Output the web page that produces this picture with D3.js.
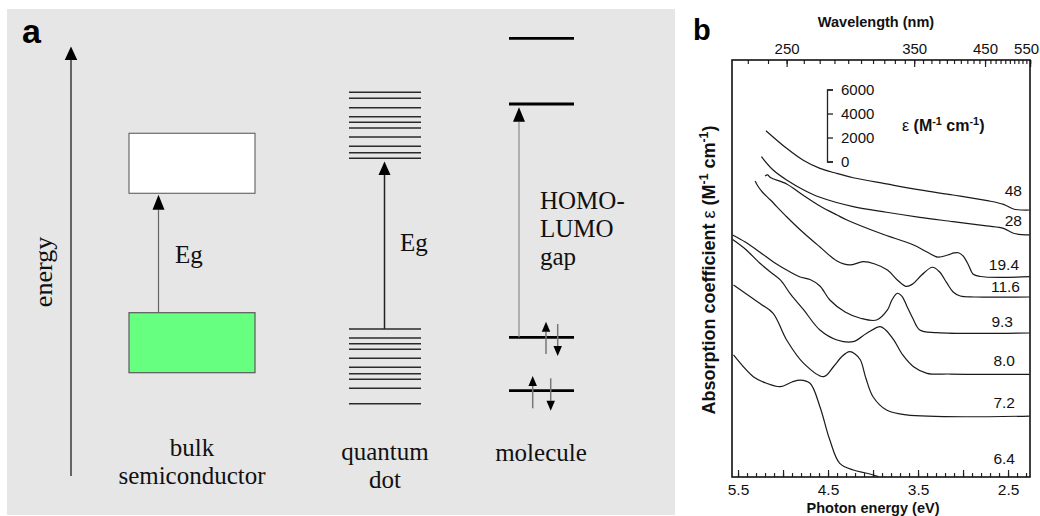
<!DOCTYPE html>
<html>
<head>
<meta charset="utf-8">
<script src="https://cdn.jsdelivr.net/npm/d3@7"></script>
<style>
  body { margin: 0; background: #fff; }
  svg { display: block; }
</style>
</head>
<body>
<svg id="chart" width="1040" height="516"></svg>
<script>
// ---------- Panel a: schematic energy levels (arbitrary energy units) ----------
const columnNames = [["bulk", "semiconductor"], ["quantum", "dot"], ["molecule"]];
const gapLabel = ["HOMO-", "LUMO", "gap"];
const bulkConduction = [282.7, 342.7];          // band bottom / top
const bulkValence = [103.3, 163.3];
const dotConduction = [317.7, 323.3, 329.7, 339, 348, 353.7, 359.3, 368.3, 377.7, 383.7];
const dotValence = [72.3, 87.7, 96.7, 102.3, 108.7, 117.7, 126.7, 132.3, 138, 147];
const moleculeLevels = [85.3, 138.7, 372, 437.7]; // HOMO-1, HOMO, LUMO, LUMO+1
const energyAxisTop = 430;

// ---------- Panel b: absorption spectra, [photon energy (eV), offset ε (M^-1 cm^-1)] ----------
const sizeLabels = ["48", "28", "19.4", "11.6", "9.3", "8.0", "7.2", "6.4"];
const spectrum48 = [[5.19,28860],[4.96,27390],[4.78,26420],[4.59,25720],[4.41,25310],[4.22,24940],[3.85,24420],[3.48,23920],[3.11,23500],[2.73,23030],[2.55,22720],[2.44,22330],[2.26,22250]];
const spectrum28 = [[5.24,26690],[5.11,25580],[4.96,24750],[4.77,23920],[4.59,23310],[4.22,22530],[3.85,22060],[3.48,21640],[3.11,21280],[2.74,20920],[2.55,20720],[2.44,20310],[2.26,20170]];
const spectrum19_4 = [[5.20,25080],[5.17,25170],[5.14,24950],[4.96,24420],[4.78,23500],[4.59,22580],[4.40,21830],[4.29,21420],[3.92,20310],[3.55,19330],[3.40,18750],[3.28,18330],[3.17,18500],[3.10,18670],[3.05,18690],[3.00,18420],[2.94,17670],[2.89,16920],[2.81,16710],[2.26,16690]];
const spectrum11_6 = [[5.31,24670],[5.28,24250],[5.23,23750],[5.14,23080],[4.96,21690],[4.77,20330],[4.59,19170],[4.40,18000],[4.26,17670],[4.11,17940],[3.98,17750],[3.84,17250],[3.73,16420],[3.63,15880],[3.56,16080],[3.46,16830],[3.34,17480],[3.26,17080],[3.18,16170],[3.11,15420],[3.03,15080],[2.87,15000],[2.26,15000]];
const spectrum9_3 = [[5.56,20170],[5.42,19580],[5.26,18750],[5.09,17830],[4.92,17080],[4.81,16670],[4.70,16460],[4.59,15920],[4.48,14750],[4.31,13750],[4.14,13230],[3.96,13080],[3.84,13920],[3.79,14750],[3.73,15310],[3.68,15080],[3.62,14170],[3.56,13250],[3.48,12250],[3.29,12030],[2.26,12000]];
const spectrum8_0 = [[5.56,19790],[5.42,19000],[5.26,17830],[5.14,17080],[5.03,16420],[4.91,15170],[4.77,13920],[4.59,12250],[4.40,11420],[4.22,11280],[4.07,11980],[3.92,12530],[3.86,12250],[3.77,11420],[3.67,10170],[3.55,9190],[3.40,8640],[3.14,8580],[2.26,8560]];
const spectrum7_2 = [[5.55,16000],[5.26,14470],[5.11,13640],[4.96,11420],[4.77,9470],[4.55,8360],[4.44,9190],[4.34,10080],[4.26,10440],[4.20,10250],[4.14,9750],[4.08,8250],[4.00,6690],[3.85,5580],[3.63,5170],[2.26,5080]];
const spectrum6_4 = [[5.55,10170],[5.33,8360],[5.19,7830],[5.03,7530],[4.90,7920],[4.81,8080],[4.70,7810],[4.59,5860],[4.48,3080],[4.37,1140],[4.22,580],[4.07,310],[3.94,30]];
const spectra = [spectrum48, spectrum28, spectrum19_4, spectrum11_6, spectrum9_3, spectrum8_0, spectrum7_2, spectrum6_4];

const energyMinorTicks = d3.range(55, 22, -1).map(v => v / 10);
const energyMajorTicks = [5.5, 5.0, 4.5, 4.0, 3.5, 3.0, 2.5];
const energyTickLabels = [5.5, 4.5, 3.5, 2.5];
const wavelengthMinorTicks = d3.range(230, 551, 10);
const wavelengthTickLabels = [250, 350, 450, 550];
const scaleBarTicks = [0, 2000, 4000, 6000];
const scaleBarBase = 26290;

const svg = d3.select("#chart");
const serif = "'Liberation Serif', 'Times New Roman', serif";
const sans = "'Liberation Sans', Arial, Helvetica, sans-serif";

// vertical arrow with a filled triangular head
function arrow(g, x, yFrom, yTip, opt) {
  const dir = yTip < yFrom ? 1 : -1;       // 1 = pointing up
  const hl = opt.headLen, hw = opt.headW / 2;
  const yBase = yTip + dir * hl;
  g.append("line").attr("x1", x).attr("x2", x).attr("y1", yFrom).attr("y2", yBase)
    .attr("stroke", opt.color).attr("stroke-width", opt.width);
  g.append("path")
    .attr("d", `M${x},${yTip}L${x - hw},${yBase}L${x + hw},${yBase}Z`)
    .attr("fill", opt.headColor || "#000");
}

// multi-line serif text block as one <text> element
function textBlock(g, x, y, lines, gaps, anchor, size) {
  const t = g.append("text").attr("x", x).attr("y", y).attr("text-anchor", anchor)
    .attr("font-family", serif).attr("font-size", size).attr("fill", "#111");
  lines.forEach((s, i) => {
    t.append("tspan").attr("x", x).attr("dy", i === 0 ? 0 : gaps[i - 1]).text(s);
  });
  return t;
}

// ================= Panel a =================
const ga = svg.append("g");
ga.append("rect").attr("x", 7).attr("y", 9).attr("width", 668).attr("height", 506).attr("fill", "#e6e6e6");

const eY = d3.scaleLinear().domain([0, energyAxisTop]).range([476, 46]);

ga.append("text").attr("x", 22).attr("y", 43).text("a")
  .attr("font-family", sans).attr("font-weight", "bold").attr("font-size", 34).attr("fill", "#000");

// energy axis
arrow(ga, 71, eY(0), eY(energyAxisTop) + 0.5, { color: "#444", width: 1.6, headLen: 13.5, headW: 12.5 });
ga.append("text").attr("transform", `translate(52,${272}) rotate(-90)`)
  .attr("text-anchor", "middle").text("energy")
  .attr("font-family", serif).attr("font-size", 26).attr("fill", "#111");

// bulk semiconductor bands
const bulkX = 129, bulkW = 126;
ga.append("rect").attr("x", bulkX).attr("y", eY(bulkConduction[1])).attr("width", bulkW)
  .attr("height", eY(bulkConduction[0]) - eY(bulkConduction[1]))
  .attr("fill", "#ffffff").attr("stroke", "#6b6b6b").attr("stroke-width", 1.2);
ga.append("rect").attr("x", bulkX).attr("y", eY(bulkValence[1])).attr("width", bulkW)
  .attr("height", eY(bulkValence[0]) - eY(bulkValence[1]))
  .attr("fill", "#66ff7f").attr("stroke", "#5a5a5a").attr("stroke-width", 1.2);
arrow(ga, 158.5, eY(bulkValence[1]), eY(bulkConduction[0]) + 1.5, { color: "#666", width: 1.2, headLen: 15, headW: 12 });
ga.append("text").attr("x", 175).attr("y", 263).text("Eg")
  .attr("font-family", serif).attr("font-size", 25).attr("fill", "#111");

// quantum dot levels
const dotX1 = 349, dotX2 = 421;
ga.selectAll("line.cb").data(dotConduction).join("line").attr("class", "cb")
  .attr("x1", dotX1).attr("x2", dotX2).attr("y1", d => eY(d)).attr("y2", d => eY(d))
  .attr("stroke", "#2a2a2a").attr("stroke-width", 1.4);
ga.selectAll("line.vb").data(dotValence).join("line").attr("class", "vb")
  .attr("x1", dotX1).attr("x2", dotX2).attr("y1", d => eY(d)).attr("y2", d => eY(d))
  .attr("stroke", "#2a2a2a").attr("stroke-width", 1.4);
arrow(ga, 384.5, eY(d3.max(dotValence)), eY(d3.min(dotConduction)) + 3.2, { color: "#222", width: 1.5, headLen: 13.5, headW: 12 });
ga.append("text").attr("x", 400).attr("y", 251).text("Eg")
  .attr("font-family", serif).attr("font-size", 25).attr("fill", "#111");

// molecular orbitals
const molX1 = 509, molX2 = 574;
ga.selectAll("line.mo").data(moleculeLevels).join("line").attr("class", "mo")
  .attr("x1", molX1).attr("x2", molX2).attr("y1", d => eY(d)).attr("y2", d => eY(d))
  .attr("stroke", "#000").attr("stroke-width", 2.8);
arrow(ga, 519, eY(moleculeLevels[1]), eY(moleculeLevels[2]) + 3.2, { color: "#8a8a8a", width: 1.2, headLen: 14.5, headW: 12 });
// paired electron spins in HOMO and HOMO-1
const spin = { color: "#777", width: 1.5, headLen: 10, headW: 8.5 };
arrow(ga, 546, eY(moleculeLevels[1]) + 16.7, eY(moleculeLevels[1]) - 15.6, spin);
arrow(ga, 557.7, eY(moleculeLevels[1]) - 13.3, eY(moleculeLevels[1]) + 18.7, spin);
arrow(ga, 532.7, eY(moleculeLevels[0]) + 17.6, eY(moleculeLevels[0]) - 14.7, spin);
arrow(ga, 550.7, eY(moleculeLevels[0]) - 12.4, eY(moleculeLevels[0]) + 20, spin);
textBlock(ga, 540, 209, gapLabel, [28, 28], "start", 25);

// column captions
const captionX = [192, 385, 541];
const captionY = [456, 460, 461];
const captionGap = [28, 28, 0];
columnNames.forEach((lines, i) => {
  textBlock(ga, captionX[i], captionY[i], lines, [captionGap[i]], "middle", 25);
});

// ================= Panel b =================
const gb = svg.append("g");
const frame = { left: 732, right: 1030, top: 60, bottom: 477 };
const x = d3.scaleLinear().domain([5.567, 2.256]).range([frame.left, frame.right]);
const y = d3.scaleLinear().domain([0, 34750]).range([frame.bottom, frame.top]);
const textColor = "#111";

gb.append("text").attr("x", 693).attr("y", 40).text("b")
  .attr("font-family", sans).attr("font-weight", "bold").attr("font-size", 29).attr("fill", "#000");

// bottom photon-energy axis (ticks point inward)
const bottomMinor = d3.axisBottom(x).tickValues(energyMinorTicks).tickSize(-4).tickFormat("");
const bottomMajor = d3.axisBottom(x).tickValues(energyMajorTicks).tickSize(-7).tickPadding(7)
  .tickFormat(d => energyTickLabels.includes(d) ? d3.format(".1f")(d) : "");
[bottomMinor, bottomMajor].forEach(ax => {
  const g = gb.append("g").attr("transform", `translate(0,${frame.bottom})`).call(ax);
  g.select(".domain").remove();
  g.selectAll("line").attr("stroke", "#222").attr("stroke-width", 1.2);
  g.selectAll("text").attr("font-family", sans).attr("font-size", 15.5).attr("fill", textColor);
});

// top wavelength axis, placed on the same energy scale (E = 1240 / λ)
const toE = l => 1240 / l;
const topMinor = d3.axisTop(x).tickValues(wavelengthMinorTicks.map(toE)).tickSize(-4).tickFormat("");
const topMajor = d3.axisTop(x).tickValues(wavelengthTickLabels.map(toE)).tickSize(-7).tickPadding(6.5)
  .tickFormat(d => Math.round(1240 / d));
[topMinor, topMajor].forEach(ax => {
  const g = gb.append("g").attr("transform", `translate(0,${frame.top})`).call(ax);
  g.select(".domain").remove();
  g.selectAll("line").attr("stroke", "#222").attr("stroke-width", 1.2);
  g.selectAll("text").attr("font-family", sans).attr("font-size", 15).attr("fill", textColor);
  g.selectAll("text").filter(d => Math.round(1240 / d) === 550).attr("dx", -4);
});

gb.append("rect").attr("x", frame.left).attr("y", frame.top)
  .attr("width", frame.right - frame.left).attr("height", frame.bottom - frame.top)
  .attr("fill", "none").attr("stroke", "#111").attr("stroke-width", 1.6);

// axis titles
gb.append("text").attr("x", 876).attr("y", 27).attr("text-anchor", "middle").text("Wavelength (nm)")
  .attr("font-family", sans).attr("font-weight", "bold").attr("font-size", 14.5).attr("fill", textColor);
gb.append("text").attr("x", 873).attr("y", 513).attr("text-anchor", "middle").text("Photon energy (eV)")
  .attr("font-family", sans).attr("font-weight", "bold").attr("font-size", 14.5).attr("fill", textColor);

function unitText(sel, size) {
  sel.append("tspan").text(" (M");
  sel.append("tspan").attr("dy", -size * 0.38).attr("font-size", size * 0.68).text("-1");
  sel.append("tspan").attr("dy", size * 0.38).text(" cm");
  sel.append("tspan").attr("dy", -size * 0.38).attr("font-size", size * 0.68).text("-1");
  sel.append("tspan").attr("dy", size * 0.38).text(")");
}
const yTitle = gb.append("text").attr("transform", `translate(715,${270}) rotate(-90)`)
  .attr("text-anchor", "middle").attr("font-family", sans).attr("font-weight", "bold")
  .attr("font-size", 18).attr("fill", textColor);
yTitle.append("tspan").text("Absorption coefficient ");
yTitle.append("tspan").attr("font-weight", "normal").text("ε");
unitText(yTitle, 18);

// ε scale bar
const bar = d3.scaleLinear().domain([0, 6000]).range([y(scaleBarBase), y(scaleBarBase + 6000)]);
const barG = gb.append("g").attr("transform", "translate(827,0)")
  .call(d3.axisRight(bar).tickValues(scaleBarTicks).tickSize(6).tickPadding(8).tickFormat(d3.format("d")));
barG.select(".domain").attr("stroke", "#222").attr("stroke-width", 1.3);
barG.selectAll("line").attr("stroke", "#222").attr("stroke-width", 1.3);
barG.selectAll("text").attr("font-family", sans).attr("font-size", 15).attr("fill", textColor);

const epsLabel = gb.append("text").attr("x", 902).attr("y", 131)
  .attr("font-family", sans).attr("font-weight", "bold").attr("font-size", 16).attr("fill", textColor);
epsLabel.append("tspan").attr("font-weight", "normal").text("ε");
unitText(epsLabel, 16);

// spectra
const line = d3.line().x(d => x(d[0])).y(d => y(d[1])).curve(d3.curveCatmullRom.alpha(0.5));
gb.selectAll("path.spectrum").data(spectra).join("path").attr("class", "spectrum")
  .attr("d", line).attr("fill", "none").attr("stroke", "#1a1a1a").attr("stroke-width", 1.2);

// size labels beside each spectrum's right end
const labelRight = [1022, 1022, 1019, 1020, 1013, 1015, 1015, 1015];
const labelDy = [-14, -9, -7, -5, -6, -8, -8, -13];
sizeLabels.forEach((t, i) => {
  const last = spectra[i][spectra[i].length - 1];
  gb.append("text").attr("x", labelRight[i]).attr("y", y(last[1]) + labelDy[i])
    .attr("text-anchor", "end").text(t)
    .attr("font-family", sans).attr("font-size", 15.5).attr("fill", textColor);
});
</script>
</body>
</html>
